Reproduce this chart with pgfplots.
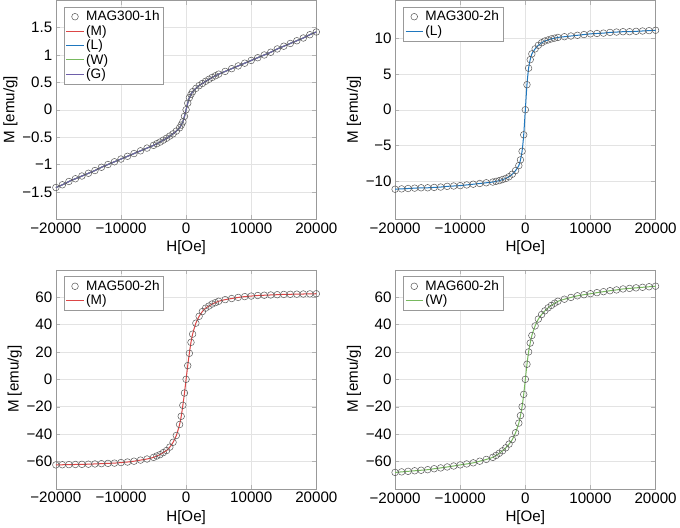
\documentclass[border=0pt]{standalone}
\usepackage{pgfplots}
\pgfplotsset{compat=1.18}
\usepgfplotslibrary{groupplots}
\usepackage{pgfplotstable}
\usepackage{fontspec}
\setmainfont{Liberation Sans}
\definecolor{cM}{RGB}{220,70,70}
\definecolor{cL}{RGB}{31,119,190}
\definecolor{cW}{RGB}{120,185,95}
\definecolor{cG}{RGB}{110,95,170}
\pgfplotstableread{
x y
-20000 -1.42
-19000 -1.37
-18000 -1.31
-17000 -1.26
-16000 -1.21
-15000 -1.16
-14000 -1.11
-13000 -1.05
-12000 -1.00
-11000 -0.95
-10000 -0.90
-9000 -0.85
-8000 -0.80
-7000 -0.75
-6000 -0.70
-5000 -0.65
-4500 -0.62
-4000 -0.59
-3500 -0.555
-3000 -0.52
-2500 -0.48
-2000 -0.44
-1500 -0.39
-1000 -0.33
-750 -0.28
-500 -0.22
-250 -0.12
0 0
250 0.12
500 0.22
750 0.28
1000 0.33
1500 0.39
2000 0.44
2500 0.48
3000 0.52
3500 0.555
4000 0.59
4500 0.62
5000 0.65
6000 0.70
7000 0.75
8000 0.80
9000 0.85
10000 0.90
11000 0.95
12000 1.00
13000 1.05
14000 1.11
15000 1.16
16000 1.21
17000 1.26
18000 1.31
19000 1.37
20000 1.42
}\dA
\pgfplotstableread{
x y
-20000 -11.1
-19000 -11.05
-18000 -11.0
-17000 -10.95
-16000 -10.9
-15000 -10.9
-14000 -10.85
-13000 -10.8
-12000 -10.7
-11000 -10.65
-10000 -10.6
-9000 -10.5
-8000 -10.4
-7000 -10.3
-6000 -10.2
-5000 -10.1
-4500 -10.0
-4000 -9.9
-3500 -9.75
-3000 -9.6
-2500 -9.35
-2000 -9.0
-1500 -8.5
-1000 -7.8
-750 -7.0
-500 -5.8
-250 -3.5
0 0
250 3.5
500 5.8
750 7.0
1000 7.8
1500 8.5
2000 9.0
2500 9.35
3000 9.6
3500 9.75
4000 9.9
4500 10.0
5000 10.1
6000 10.2
7000 10.3
8000 10.4
9000 10.5
10000 10.6
11000 10.65
12000 10.7
13000 10.8
14000 10.85
15000 10.9
16000 10.9
17000 10.95
18000 11.0
19000 11.05
20000 11.1
}\dB
\pgfplotstableread{
x y
-20000 -62.5
-19000 -62.4
-18000 -62.3
-17000 -62.2
-16000 -62.1
-15000 -62.0
-14000 -61.8
-13000 -61.6
-12000 -61.4
-11000 -61.2
-10000 -60.8
-9000 -60.4
-8000 -59.8
-7000 -59.0
-6000 -58.2
-5000 -57.0
-4500 -56.0
-4000 -55.0
-3500 -53.5
-3000 -52.0
-2500 -49.5
-2000 -46.0
-1500 -41.0
-1000 -33.0
-750 -27.0
-500 -19.0
-250 -10.0
0 0
250 10.0
500 19.0
750 27.0
1000 33.0
1500 41.0
2000 46.0
2500 49.5
3000 52.0
3500 53.5
4000 55.0
4500 56.0
5000 57.0
6000 58.2
7000 59.0
8000 59.8
9000 60.4
10000 60.8
11000 61.2
12000 61.4
13000 61.6
14000 61.8
15000 62.0
16000 62.1
17000 62.2
18000 62.3
19000 62.4
20000 62.5
}\dC
\pgfplotstableread{
x y
-20000 -68.0
-19000 -67.6
-18000 -67.2
-17000 -66.8
-16000 -66.4
-15000 -66.0
-14000 -65.3
-13000 -64.7
-12000 -64.0
-11000 -63.3
-10000 -62.5
-9000 -61.8
-8000 -61.0
-7000 -59.8
-6000 -58.5
-5000 -57.0
-4500 -55.6
-4000 -54.0
-3500 -52.2
-3000 -50.0
-2500 -47.3
-2000 -44.0
-1500 -39.0
-1000 -32.0
-750 -26.5
-500 -20.0
-250 -11.0
0 0
250 11.0
500 20.0
750 26.5
1000 32.0
1500 39.0
2000 44.0
2500 47.3
3000 50.0
3500 52.2
4000 54.0
4500 55.6
5000 57.0
6000 58.5
7000 59.8
8000 61.0
9000 61.8
10000 62.5
11000 63.3
12000 64.0
13000 64.7
14000 65.3
15000 66.0
16000 66.4
17000 66.8
18000 67.2
19000 67.6
20000 68.0
}\dD
\begin{document}
\begin{tikzpicture}
\begin{groupplot}[
  group style={group size=2 by 2, horizontal sep=78pt, vertical sep=50pt},
  width=258pt, height=217pt, scale only axis,
  xmin=-20000, xmax=20000, xtick={-20000,-10000,0,10000,20000},
  xticklabels={−20000,−10000,0,10000,20000},
  scaled x ticks=false,
  grid=major, major grid style={gray!22},
  axis line style={gray!80}, tick style={gray!60},
  ticklabel style={font=\fontsize{15}{17}\selectfont},
  label style={font=\fontsize{15}{17}\selectfont},
  xlabel={H[Oe]}, ylabel={M [emu/g]},
  ylabel style={yshift=-2pt},
  legend pos=north west, legend cell align=left,
  legend style={draw=gray!80, font=\fontsize{13.5}{16}\selectfont, inner sep=2pt, row sep=-1pt},
  mk/.style={only marks, mark=o, mark size=3.3pt, gray!70!black, mark options={line width=0.5pt}},
  ln/.style={mark=none, line width=1pt, smooth, forget plot},
]
\nextgroupplot[ymin=-2, ymax=2, ytick={-1.5,-1,-0.5,0,0.5,1,1.5},
  yticklabels={−1.5,−1,−0.5,0,0.5,1,1.5}]
\addplot[mk] table {\dA};
\addplot[ln, draw=cM] table {\dA};
\addplot[ln, draw=cL] table {\dA};
\addplot[ln, draw=cW] table {\dA};
\addplot[ln, draw=cG] table {\dA};
\addlegendentry{MAG300-1h}
\addlegendimage{cM, line width=1pt}\addlegendentry{(M)}
\addlegendimage{cL, line width=1pt}\addlegendentry{(L)}
\addlegendimage{cW, line width=1pt}\addlegendentry{(W)}
\addlegendimage{cG, line width=1pt}\addlegendentry{(G)}
\nextgroupplot[ymin=-15.3, ymax=15.3, ytick={-10,-5,0,5,10}, yticklabels={−10,−5,0,5,10}]
\addplot[mk] table {\dB};
\addplot[ln, draw=cL] table {\dB};
\addlegendentry{MAG300-2h}
\addlegendimage{cL, line width=1pt}\addlegendentry{(L)}
\nextgroupplot[ymin=-80, ymax=80, ytick={-60,-40,...,60}, yticklabels={−60,−40,−20,0,20,40,60}]
\addplot[mk] table {\dC};
\addplot[ln, draw=cM] table {\dC};
\addlegendentry{MAG500-2h}
\addlegendimage{cM, line width=1pt}\addlegendentry{(M)}
\nextgroupplot[ymin=-80, ymax=80, ytick={-60,-40,...,60}, yticklabels={−60,−40,−20,0,20,40,60}]
\addplot[mk] table {\dD};
\addplot[ln, draw=cW] table {\dD};
\addlegendentry{MAG600-2h}
\addlegendimage{cW, line width=1pt}\addlegendentry{(W)}
\end{groupplot}
\end{tikzpicture}
\end{document}
